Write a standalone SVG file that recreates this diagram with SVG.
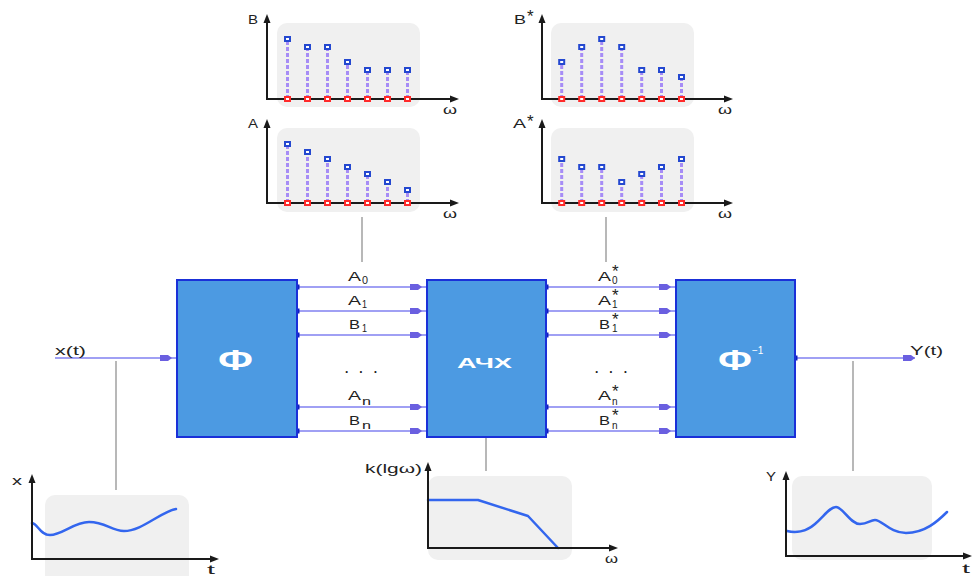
<svg xmlns="http://www.w3.org/2000/svg" width="973" height="576" viewBox="0 0 973 576">
<style>
text{font-family:"Liberation Sans",Arial,sans-serif;fill:#222}
.lbl{font-size:12px}
.sub{font-size:10px}
.star{font-size:17px}
.bg{fill:#f0f0f0}
.ax{stroke:#1a1a1a;stroke-width:2;fill:none}
.axh{fill:#1a1a1a}
.stem{stroke:#a68cf6;stroke-width:3;stroke-dasharray:4 2}
.top{fill:#fff;stroke:#2448d0;stroke-width:2}
.bot{fill:#fff;stroke:#ff2a2a;stroke-width:2}
.curve{stroke:#3366ee;stroke-width:2.5;fill:none;stroke-linecap:round;stroke-linejoin:round}
.gray{stroke:#b8b8b8;stroke-width:2}
.blk{fill:#4c9ae2;stroke:#1a30d8;stroke-width:2}
.wt{fill:#fff;font-weight:bold}
.sig{stroke:#8080f0;stroke-width:1.6}
.ah{fill:#6a5fe0}
.dot{fill:#1020c0}
</style>
<defs>
<path id="ah" class="ah" d="M-17,-3 L-9,-3 L-5,0 L-9,3 L-17,3 Z"/>
<path id="up" class="axh" d="M0,0 L-3.5,9 L3.5,9 Z"/>
<path id="rt" class="axh" d="M0,0 L-9,-3.5 L-9,3.5 Z"/>
<rect id="dt" class="dot" x="-2.5" y="-2.5" width="5" height="5"/>
<rect id="tm" class="top" x="-2.5" y="-2" width="5" height="4"/>
<rect id="bm" class="bot" x="-2.5" y="-2" width="5" height="4"/>
</defs>

<!-- gray connectors to charts and signal lines -->
<g id="connectors">
<line class="gray" x1="362" y1="217" x2="362" y2="262"/>
<line class="gray" x1="606" y1="217" x2="606" y2="262"/>
<line class="gray" x1="116" y1="361" x2="116" y2="490"/>
<line class="gray" x1="486" y1="438" x2="486" y2="471"/>
<line class="gray" x1="853" y1="361" x2="853" y2="471"/>

<line class="sig" x1="55" y1="358" x2="177" y2="358"/>
<use href="#ah" x="177" y="358"/>
<line class="sig" x1="795" y1="358" x2="915" y2="358"/>
<use href="#ah" x="920" y="358"/>
<use href="#dt" x="795" y="358"/>

<g>
<line class="sig" x1="297" y1="287" x2="427" y2="287"/><use href="#ah" x="427" y="287"/><use href="#dt" x="297" y="287"/>
<line class="sig" x1="297" y1="311" x2="427" y2="311"/><use href="#ah" x="427" y="311"/><use href="#dt" x="297" y="311"/>
<line class="sig" x1="297" y1="335" x2="427" y2="335"/><use href="#ah" x="427" y="335"/><use href="#dt" x="297" y="335"/>
<line class="sig" x1="297" y1="407" x2="427" y2="407"/><use href="#ah" x="427" y="407"/><use href="#dt" x="297" y="407"/>
<line class="sig" x1="297" y1="431" x2="427" y2="431"/><use href="#ah" x="427" y="431"/><use href="#dt" x="297" y="431"/>
</g>
<g>
<line class="sig" x1="546" y1="287" x2="676" y2="287"/><use href="#ah" x="676" y="287"/><use href="#dt" x="546" y="287"/>
<line class="sig" x1="546" y1="311" x2="676" y2="311"/><use href="#ah" x="676" y="311"/><use href="#dt" x="546" y="311"/>
<line class="sig" x1="546" y1="335" x2="676" y2="335"/><use href="#ah" x="676" y="335"/><use href="#dt" x="546" y="335"/>
<line class="sig" x1="546" y1="407" x2="676" y2="407"/><use href="#ah" x="676" y="407"/><use href="#dt" x="546" y="407"/>
<line class="sig" x1="546" y1="431" x2="676" y2="431"/><use href="#ah" x="676" y="431"/><use href="#dt" x="546" y="431"/>
</g>
</g>

<!-- signal labels -->
<g id="labels-left">
<text class="lbl" x="348" y="281" textLength="13" lengthAdjust="spacingAndGlyphs">A</text><text class="sub" x="362" y="284" textLength="6" lengthAdjust="spacingAndGlyphs">0</text>
<text class="lbl" x="348" y="305" textLength="13" lengthAdjust="spacingAndGlyphs">A</text><text class="sub" x="362" y="308" textLength="5" lengthAdjust="spacingAndGlyphs">1</text>
<text class="lbl" x="349" y="329" textLength="11" lengthAdjust="spacingAndGlyphs">B</text><text class="sub" x="362" y="332" textLength="5" lengthAdjust="spacingAndGlyphs">1</text>
<text class="lbl" x="345" y="373" textLength="32" lengthAdjust="spacing" font-weight="bold">. . .</text>
<text class="lbl" x="348" y="400" textLength="13" lengthAdjust="spacingAndGlyphs">A</text><text class="sub" x="362" y="405" textLength="9" lengthAdjust="spacingAndGlyphs">n</text>
<text class="lbl" x="349" y="425" textLength="11" lengthAdjust="spacingAndGlyphs">B</text><text class="sub" x="362" y="429" textLength="9" lengthAdjust="spacingAndGlyphs">n</text>
</g>
<g id="labels-right">
<text class="lbl" x="598" y="281"><tspan textLength="13" lengthAdjust="spacingAndGlyphs">A</tspan><tspan class="sub" x="612" y="284">0</tspan><tspan class="star" x="612" y="277">*</tspan></text>
<text class="lbl" x="598" y="305"><tspan textLength="13" lengthAdjust="spacingAndGlyphs">A</tspan><tspan class="sub" x="612" y="308">1</tspan><tspan class="star" x="612" y="301">*</tspan></text>
<text class="lbl" x="599" y="329"><tspan textLength="11" lengthAdjust="spacingAndGlyphs">B</tspan><tspan class="sub" x="612" y="332">1</tspan><tspan class="star" x="612" y="325">*</tspan></text>
<text class="lbl" x="595" y="373" textLength="32" lengthAdjust="spacing" font-weight="bold">. . .</text>
<text class="lbl" x="598" y="400"><tspan textLength="13" lengthAdjust="spacingAndGlyphs">A</tspan><tspan class="sub" x="612" y="405">n</tspan><tspan class="star" x="612" y="397">*</tspan></text>
<text class="lbl" x="599" y="425"><tspan textLength="11" lengthAdjust="spacingAndGlyphs">B</tspan><tspan class="sub" x="612" y="429">n</tspan><tspan class="star" x="612" y="421">*</tspan></text>
<text class="lbl" x="55" y="355" textLength="31" lengthAdjust="spacingAndGlyphs">x(t)</text>
<text class="lbl" x="910" y="355" textLength="33" lengthAdjust="spacingAndGlyphs">Y(t)</text>
</g>

<!-- blocks -->
<g id="phi">
<rect class="blk" x="177" y="280" width="120" height="157"/>
<text class="wt" x="218" y="370" font-size="30" textLength="35" lengthAdjust="spacingAndGlyphs">Ф</text>
</g>
<g id="achx">
<rect class="blk" x="427" y="280" width="119" height="157"/>
<text class="wt" x="457" y="368" font-size="14" textLength="55" lengthAdjust="spacingAndGlyphs">АЧХ</text>
</g>
<g id="phi-inv">
<rect class="blk" x="676" y="280" width="119" height="157"/>
<text class="wt" x="718" y="370" font-size="30"><tspan textLength="34" lengthAdjust="spacingAndGlyphs">Ф</tspan><tspan x="752" y="354" font-size="10" font-weight="normal">−1</tspan></text>
</g>

<!-- spectrum B -->
<g id="chart-B">
<rect class="bg" x="277" y="23" width="143" height="84" rx="10"/>
<line class="stem" x1="287.5" y1="99" x2="287.5" y2="39"/>
<line class="stem" x1="307.5" y1="99" x2="307.5" y2="47"/>
<line class="stem" x1="327.5" y1="99" x2="327.5" y2="47"/>
<line class="stem" x1="347.5" y1="99" x2="347.5" y2="62"/>
<line class="stem" x1="367.5" y1="99" x2="367.5" y2="70"/>
<line class="stem" x1="387.5" y1="99" x2="387.5" y2="70"/>
<line class="stem" x1="407.5" y1="99" x2="407.5" y2="70"/>
<polyline class="ax" points="267,22 267,99 452,99"/>
<use href="#up" x="267" y="14"/><use href="#rt" x="459" y="99"/>
<use href="#tm" x="287.5" y="39"/><use href="#tm" x="307.5" y="47"/><use href="#tm" x="327.5" y="47"/><use href="#tm" x="347.5" y="62"/><use href="#tm" x="367.5" y="70"/><use href="#tm" x="387.5" y="70"/><use href="#tm" x="407.5" y="70"/>
<use href="#bm" x="287.5" y="99"/><use href="#bm" x="307.5" y="99"/><use href="#bm" x="327.5" y="99"/><use href="#bm" x="347.5" y="99"/><use href="#bm" x="367.5" y="99"/><use href="#bm" x="387.5" y="99"/><use href="#bm" x="407.5" y="99"/>
<text class="lbl" x="248" y="24" textLength="10" lengthAdjust="spacingAndGlyphs">B</text>
<text class="lbl" x="443" y="114" textLength="14" lengthAdjust="spacingAndGlyphs">ω</text>
</g>

<!-- spectrum A -->
<g id="chart-A">
<rect class="bg" x="277" y="128" width="143" height="84" rx="10"/>
<line class="stem" x1="287.5" y1="203" x2="287.5" y2="144"/>
<line class="stem" x1="307.5" y1="203" x2="307.5" y2="152"/>
<line class="stem" x1="327.5" y1="203" x2="327.5" y2="159"/>
<line class="stem" x1="347.5" y1="203" x2="347.5" y2="167"/>
<line class="stem" x1="367.5" y1="203" x2="367.5" y2="174"/>
<line class="stem" x1="387.5" y1="203" x2="387.5" y2="182"/>
<line class="stem" x1="407.5" y1="203" x2="407.5" y2="190"/>
<polyline class="ax" points="267,127 267,203 452,203"/>
<use href="#up" x="267" y="119"/><use href="#rt" x="459" y="203"/>
<use href="#tm" x="287.5" y="144"/><use href="#tm" x="307.5" y="152"/><use href="#tm" x="327.5" y="159"/><use href="#tm" x="347.5" y="167"/><use href="#tm" x="367.5" y="174"/><use href="#tm" x="387.5" y="182"/><use href="#tm" x="407.5" y="190"/>
<use href="#bm" x="287.5" y="203"/><use href="#bm" x="307.5" y="203"/><use href="#bm" x="327.5" y="203"/><use href="#bm" x="347.5" y="203"/><use href="#bm" x="367.5" y="203"/><use href="#bm" x="387.5" y="203"/><use href="#bm" x="407.5" y="203"/>
<text class="lbl" x="248" y="128" textLength="10" lengthAdjust="spacingAndGlyphs">A</text>
<text class="lbl" x="443" y="218" textLength="14" lengthAdjust="spacingAndGlyphs">ω</text>
</g>

<!-- spectrum B* -->
<g id="chart-Bstar">
<rect class="bg" x="551" y="23" width="143" height="84" rx="10"/>
<line class="stem" x1="561.7" y1="99" x2="561.7" y2="62"/>
<line class="stem" x1="581.7" y1="99" x2="581.7" y2="47"/>
<line class="stem" x1="601.7" y1="99" x2="601.7" y2="39"/>
<line class="stem" x1="621.7" y1="99" x2="621.7" y2="47"/>
<line class="stem" x1="641.7" y1="99" x2="641.7" y2="70"/>
<line class="stem" x1="661.5" y1="99" x2="661.5" y2="70"/>
<line class="stem" x1="681.5" y1="99" x2="681.5" y2="77"/>
<polyline class="ax" points="542,22 542,99 726,99"/>
<use href="#up" x="542" y="14"/><use href="#rt" x="733" y="99"/>
<use href="#tm" x="561.7" y="62"/><use href="#tm" x="581.7" y="47"/><use href="#tm" x="601.7" y="39"/><use href="#tm" x="621.7" y="47"/><use href="#tm" x="641.7" y="70"/><use href="#tm" x="661.5" y="70"/><use href="#tm" x="681.5" y="77"/>
<use href="#bm" x="561.7" y="99"/><use href="#bm" x="581.7" y="99"/><use href="#bm" x="601.7" y="99"/><use href="#bm" x="621.7" y="99"/><use href="#bm" x="641.7" y="99"/><use href="#bm" x="661.5" y="99"/><use href="#bm" x="681.5" y="99"/>
<text class="lbl" x="514" y="24"><tspan textLength="12" lengthAdjust="spacingAndGlyphs">B</tspan><tspan class="star" x="527" y="22">*</tspan></text>
<text class="lbl" x="718" y="114" textLength="14" lengthAdjust="spacingAndGlyphs">ω</text>
</g>

<!-- spectrum A* -->
<g id="chart-Astar">
<rect class="bg" x="551" y="128" width="143" height="84" rx="10"/>
<line class="stem" x1="561.7" y1="203" x2="561.7" y2="159"/>
<line class="stem" x1="581.7" y1="203" x2="581.7" y2="167"/>
<line class="stem" x1="601.7" y1="203" x2="601.7" y2="167"/>
<line class="stem" x1="621.7" y1="203" x2="621.7" y2="182"/>
<line class="stem" x1="641.7" y1="203" x2="641.7" y2="174"/>
<line class="stem" x1="661.5" y1="203" x2="661.5" y2="167"/>
<line class="stem" x1="681.5" y1="203" x2="681.5" y2="159"/>
<polyline class="ax" points="542,127 542,203 726,203"/>
<use href="#up" x="542" y="119"/><use href="#rt" x="733" y="203"/>
<use href="#tm" x="561.7" y="159"/><use href="#tm" x="581.7" y="167"/><use href="#tm" x="601.7" y="167"/><use href="#tm" x="621.7" y="182"/><use href="#tm" x="641.7" y="174"/><use href="#tm" x="661.5" y="167"/><use href="#tm" x="681.5" y="159"/>
<use href="#bm" x="561.7" y="203"/><use href="#bm" x="581.7" y="203"/><use href="#bm" x="601.7" y="203"/><use href="#bm" x="621.7" y="203"/><use href="#bm" x="641.7" y="203"/><use href="#bm" x="661.5" y="203"/><use href="#bm" x="681.5" y="203"/>
<text class="lbl" x="513" y="128"><tspan textLength="13" lengthAdjust="spacingAndGlyphs">A</tspan><tspan class="star" x="527" y="127">*</tspan></text>
<text class="lbl" x="718" y="218" textLength="14" lengthAdjust="spacingAndGlyphs">ω</text>
</g>

<!-- x(t) chart -->
<g id="chart-x">
<rect class="bg" x="45" y="495" width="144" height="90" rx="10"/>
<path class="curve" d="M32,523 C38,524 40,535 50,535 C62,535 74,522 89,522 C106,522 111,531 124,531 C142,531 160,512 176,509"/>
<polyline class="ax" points="32,482 32,559 212,559"/>
<use href="#up" x="32" y="474"/><use href="#rt" x="219" y="559"/>
<text class="lbl" x="12" y="485" textLength="10" lengthAdjust="spacingAndGlyphs">x</text>
<text class="lbl" x="207" y="574" textLength="8" lengthAdjust="spacingAndGlyphs">t</text>
</g>

<!-- АЧХ chart -->
<g id="chart-k">
<rect class="bg" x="428" y="476" width="144" height="84" rx="10"/>
<polyline class="curve" points="428,500 478,500 528,516 558,548"/>
<polyline class="ax" points="428,470 428,548 611,548"/>
<use href="#up" x="428" y="462"/><use href="#rt" x="618" y="548"/>
<text class="lbl" x="365" y="473" textLength="57" lengthAdjust="spacingAndGlyphs">k(lgω)</text>
<text class="lbl" x="605" y="563" textLength="13" lengthAdjust="spacingAndGlyphs">ω</text>
</g>

<!-- Y(t) chart -->
<g id="chart-y">
<rect class="bg" x="792" y="476" width="140" height="84" rx="10"/>
<path class="curve" d="M787,531 C795,533 806,532 815,524 C825,515 830,507 836,507 C843,507 850,524 860,524 C868,524 870,520 875,520 C882,520 890,533 906,533 C925,533 938,521 947,512"/>
<polyline class="ax" points="786,479 786,556 965,556"/>
<use href="#up" x="786" y="471"/><use href="#rt" x="972" y="556"/>
<text class="lbl" x="766" y="481" textLength="10" lengthAdjust="spacingAndGlyphs">Y</text>
<text class="lbl" x="962" y="573" textLength="8" lengthAdjust="spacingAndGlyphs">t</text>
</g>
</svg>
